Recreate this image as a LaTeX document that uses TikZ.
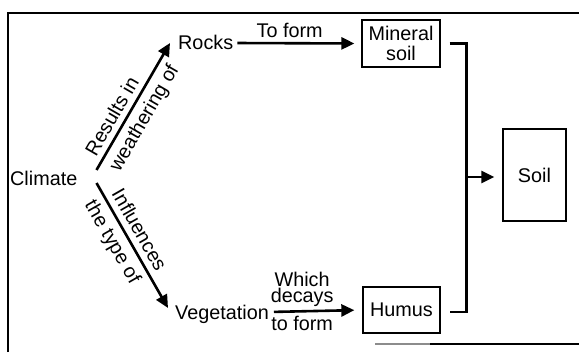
\documentclass[tikz,border=0pt]{standalone}
\usepackage{fontspec}
\setmainfont{Liberation Sans}
\usetikzlibrary{arrows.meta}
\begin{document}
\begin{tikzpicture}[x=1pt,y=-1pt,
  every node/.style={font=\fontsize{19.8}{20}\selectfont},
  lbl/.style={inner sep=0pt, text height=14pt, text depth=0pt},
  tag/.style={inner sep=3pt, text height=14pt, text depth=0pt},
  dtag/.style={inner sep=5.5pt, text height=14pt, text depth=0pt, sloped},
  box/.style={draw, line width=1.3pt, inner sep=0pt, align=center},
  arr/.style={line width=2.6pt, -{Triangle[length=13pt,width=12pt]}},
  conn/.style={line width=2.8pt},
  frame/.style={line width=2.4pt}
]
\useasboundingbox (0,0) rectangle (579,353);
% frame
\draw[frame] (8,352) -- (8,13) -- (579,13);
\draw[line width=1.2pt, black!45] (375,344) -- (430,344);
\draw[line width=1.2pt] (430,344) -- (579,344);

% text nodes
\node[lbl, anchor=base west] (climate) at (10,185) {Climate};
\node[lbl, anchor=base west] (rocks) at (178,50) {Rocks};
\node[lbl, anchor=base west] (veg) at (175,319) {Vegetation};

% boxes
\node[box, minimum width=78pt, minimum height=47pt] (mineral) at (401,43.5) {Mineral\\soil};
\node[box, minimum width=77pt, minimum height=46pt] (humus) at (401.5,310) {Humus};
\node[box, minimum width=63pt, minimum height=92pt] (soil) at (534.5,175) {Soil};

% diagonal arrows
\draw[arr] ([xshift=19pt,yshift=8pt]climate.east) -- ([xshift=-8pt]rocks.west)
  node[dtag, pos=0.37, above] {Results in}
  node[dtag, pos=0.47, below, inner sep=6pt] {weathering of};
\draw[arr] ([xshift=19pt,yshift=-5pt]climate.east) -- ([xshift=-7pt,yshift=4pt]veg.west)
  node[dtag, pos=0.43, above, inner sep=6pt] {Influences}
  node[dtag, pos=0.41, below, inner sep=6pt] {the type of};

% horizontal arrows
\draw[arr, shorten <=4pt, shorten >=7pt] (rocks.east) -- (mineral.west)
  node[tag, pos=0.44, above, inner sep=4.5pt] {To form};
\draw[arr, shorten <=5pt, shorten >=8pt] (veg.east) -- (humus.west)
  node[tag, pos=0.355, above, inner sep=7pt, align=center] {Which\\[-4pt]decays}
  node[tag, pos=0.355, below, inner sep=4pt] {to form};

% merge connector
\draw[conn] ([xshift=9pt]mineral.east) -- ++(17,0) coordinate (jt)
  |- ([xshift=9pt,yshift=-2pt]humus.east);
\coordinate (j) at (jt |- 0,177);
\draw[arr, shorten >=8pt] (j) -- (j -| soil.west);
\end{tikzpicture}
\end{document}
